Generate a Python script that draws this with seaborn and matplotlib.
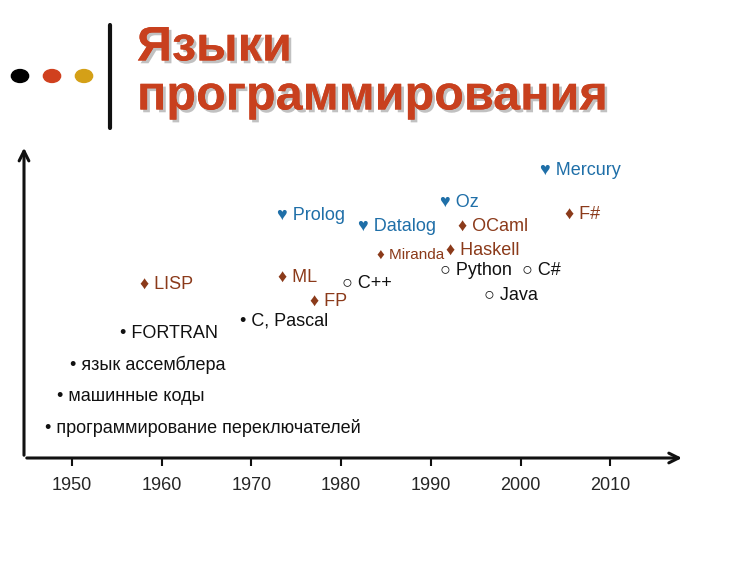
import matplotlib.pyplot as plt
import matplotlib.patheffects as pe
import seaborn as sns

# label, marker, year (anchor), level, kind
labels = ["программирование переключателей", "машинные коды", "язык ассемблера", "FORTRAN",
          "C, Pascal", "LISP", "ML", "FP", "C++", "Prolog", "Datalog", "Miranda", "Oz",
          "OCaml", "Haskell", "Python", "C#", "Java", "Mercury", "F#"]
years = [1947.0, 1948.3, 1949.8, 1955.4, 1968.7, 1957.6, 1973.0, 1976.5, 1980.1, 1972.9,
         1981.9, 1984.0, 1991.0, 1993.0, 1991.7, 1991.0, 2000.2, 1995.9, 2002.2, 2005.0]
levels = [0.96, 1.98, 2.97, 3.99, 4.38, 5.56, 5.78, 5.02, 5.56, 7.76,
          7.38, 6.49, 8.18, 7.41, 6.65, 6.0, 6.0, 5.2, 9.17, 7.8]
kinds = ["bullet"] * 5 + ["func", "func", "func", "oop", "logic", "logic", "func", "logic",
                          "func", "func", "oop", "oop", "oop", "logic", "func"]
xticks = [1950, 1960, 1970, 1980, 1990, 2000, 2010]

styles = {
    "bullet": ("•", "#111111"),
    "func": ("♦", "#8b3a1a"),
    "oop": ("○", "#111111"),
    "logic": ("♥", "#1f6fa8"),
}

sns.set_style("white")
plt.rcParams['font.family'] = ['Liberation Sans', 'DejaVu Sans']

fig = plt.figure(figsize=(7.5, 5.61), dpi=100)
ax = fig.add_axes([0.032, 0.1836, 0.881, 0.558])
ax.set_xlim(1944.65, 2018.3)
ax.set_ylim(0, 10)

for lab, x, y, k in zip(labels, years, levels, kinds):
    sym, col = styles[k]
    size = 11 if lab == "Miranda" else 13
    ax.text(x, y, sym + " " + lab, color=col, fontsize=size, va="center", ha="left")

for s in ax.spines.values():
    s.set_visible(False)
ax.set_yticks([])
ax.set_xticks(xticks)
ax.tick_params(axis="x", length=6, width=1.5, color="#111111", labelsize=13, pad=8, bottom=True)
ax.annotate("", xy=(1.0, 0), xytext=(0, 0), xycoords="axes fraction",
            arrowprops=dict(arrowstyle="->,head_width=0.35,head_length=0.7", lw=2.2, color="#111111"))
ax.annotate("", xy=(0, 1.0), xytext=(0, 0), xycoords="axes fraction",
            arrowprops=dict(arrowstyle="->,head_width=0.35,head_length=0.7", lw=2.2, color="#111111"))

# title block
shadow = [pe.withSimplePatchShadow(offset=(2, -2), shadow_rgbFace="#999999", alpha=0.6), pe.Normal()]
fig.text(137 / 750, 1 - 48 / 561, "Языки", fontsize=35, fontweight="bold", color="#c8401e",
         va="center", ha="left", path_effects=shadow)
fig.text(137 / 750, 1 - 97 / 561, "программирования", fontsize=35, fontweight="bold", color="#c8401e",
         va="center", ha="left", path_effects=shadow)
for px, c in zip([20, 52, 84], ["#000000", "#d0401e", "#d4a017"]):
    fig.patches.append(plt.Circle((px / 750, 1 - 76 / 561), 0.0115, transform=fig.transFigure,
                                  color=c, figure=fig))
fig.add_artist(plt.Line2D([110 / 750, 110 / 750], [1 - 25 / 561, 1 - 128 / 561], color="#111111", lw=3))

fig.savefig("out.png", dpi=100)
